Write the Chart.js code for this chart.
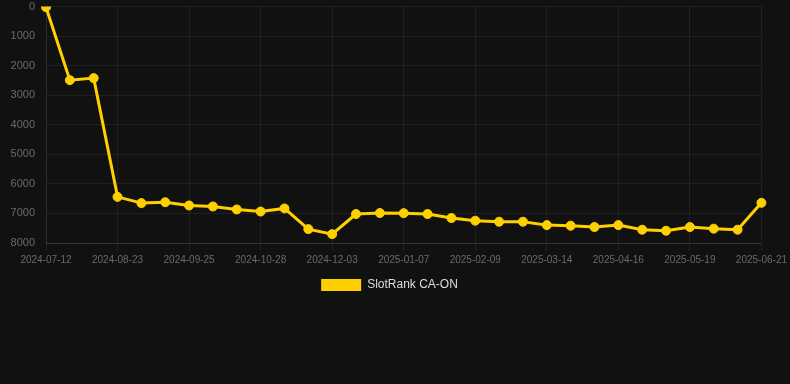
<!DOCTYPE html>
<html>
<head>
<meta charset="utf-8">
<script src="https://cdn.jsdelivr.net/npm/chart.js@4/dist/chart.umd.min.js"></script>
<style>
  html, body { margin: 0; padding: 0; background: #111111; }
  #wrap { position: relative; width: 790px; height: 301px; }
</style>
</head>
<body>
<div id="wrap"><canvas id="rankChart"></canvas></div>
<script>
var dates = [
    '2024-07-12', '2024-07-26', '2024-08-09', '2024-08-23', '2024-09-03', '2024-09-14',
    '2024-09-25', '2024-10-06', '2024-10-17', '2024-10-28', '2024-11-09', '2024-11-21',
    '2024-12-03', '2024-12-15', '2024-12-26', '2025-01-07', '2025-01-18', '2025-01-29',
    '2025-02-09', '2025-02-20', '2025-03-03', '2025-03-14', '2025-03-25', '2025-04-05',
    '2025-04-16', '2025-04-27', '2025-05-08', '2025-05-19', '2025-05-30', '2025-06-10',
    '2025-06-21'
];

var ranks = [
    20, 2490, 2420, 6440, 6650, 6620, 6730, 6765, 6865, 6935, 6830, 7530,
    7700, 7020, 6985, 6990, 7020, 7155, 7245, 7280, 7280, 7395, 7415, 7460,
    7395, 7550, 7585, 7460, 7515, 7550, 6640
];

var seriesName = 'SlotRank CA-ON';
var yTicks = [0, 1000, 2000, 3000, 4000, 5000, 6000, 7000, 8000];

var yellow = '#FFD000';
var gridColour = 'rgba(255,255,255,0.06)';
var tickColour = '#6a6a6a';
var fontFamily = 'Liberation Sans, Arial, sans-serif';

const config = {
    type: 'line',
    data: {
        labels: dates,
        datasets: [{
            label: seriesName,
            data: ranks,
            borderColor: yellow,
            backgroundColor: yellow,
            borderWidth: 3,
            pointRadius: 4.5,
            pointBorderWidth: 1,
            pointBackgroundColor: yellow,
            pointBorderColor: yellow,
            fill: false,
            tension: 0
        }]
    },
    options: {
        animation: false,
        responsive: true,
        maintainAspectRatio: false,
        layout: { padding: { left: 0, right: 11, top: 0, bottom: 0 } },
        scales: {
            x: {
                grid: { color: gridColour, tickColor: gridColour },
                border: { color: 'rgba(255,255,255,0.1)' },
                ticks: {
                    color: tickColour,
                    font: { family: fontFamily, size: 10 },
                    maxRotation: 0,
                    autoSkip: false,
                    callback: function (val, idx) {
                        return idx % 3 === 0 ? dates[idx] : null;
                    }
                }
            },
            y: {
                reverse: true,
                min: yTicks[0],
                max: yTicks[yTicks.length - 1],
                afterFit: function (scale) { scale.width = 46; },
                grid: { color: gridColour, tickColor: 'rgba(0,0,0,0)', tickLength: 11 },
                border: { color: gridColour },
                ticks: {
                    stepSize: 1000,
                    padding: 0,
                    color: tickColour,
                    font: { family: fontFamily, size: 11 },
                    callback: function (val) { return String(val); }
                }
            }
        },
        plugins: {
            legend: {
                position: 'bottom',
                labels: {
                    color: '#dddddd',
                    boxWidth: 40,
                    boxHeight: 12,
                    font: { family: fontFamily, size: 12 },
                    generateLabels: function (chart) {
                        var items = Chart.defaults.plugins.legend.labels.generateLabels(chart);
                        items.forEach(function (it) { it.lineWidth = 0; });
                        return items;
                    }
                }
            },
            tooltip: { enabled: false }
        }
    }
};

new Chart(document.getElementById('rankChart'), config);
</script>
</body>
</html>
